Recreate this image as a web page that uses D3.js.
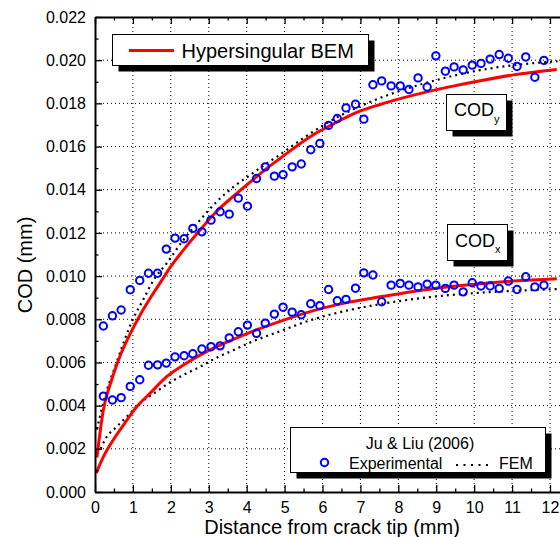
<!DOCTYPE html>
<html><head><meta charset="utf-8">
<script src="https://cdn.jsdelivr.net/npm/d3@7"></script>
<style>
html,body{margin:0;padding:0;background:#fff;}
svg{display:block;font-family:"Liberation Sans",Arial,sans-serif;}
</style></head>
<body>
<script>
// ---- data ----
const xTicks = [0,1,2,3,4,5,6,7,8,9,10,11,12];
const yTicks = [0,0.002,0.004,0.006,0.008,0.010,0.012,0.014,0.016,0.018,0.020,0.022];

const expX = [0.22,0.46,0.69,0.93,1.18,1.41,1.65,1.88,2.11,2.35,2.58,2.82,3.06,3.30,3.54,3.78,4.02,4.26,4.49,4.73,4.96,5.20,5.44,5.69,5.93,6.16,6.39,6.62,6.87,7.09,7.33,7.56,7.81,8.05,8.28,8.52,8.76,8.99,9.24,9.47,9.71,9.95,10.18,10.42,10.66,10.90,11.13,11.36,11.60,11.84];
const expCODy = [0.00769,0.00816,0.00843,0.00937,0.00980,0.01013,0.01013,0.01125,0.01176,0.01173,0.01221,0.01205,0.01259,0.01298,0.01287,0.01361,0.01324,0.01452,0.01506,0.01463,0.01470,0.01506,0.01519,0.01585,0.01614,0.01698,0.01730,0.01779,0.01796,0.01727,0.01886,0.01904,0.01881,0.01881,0.01864,0.01918,0.01876,0.02020,0.01949,0.01969,0.01955,0.01977,0.01985,0.02005,0.02026,0.02009,0.01971,0.02015,0.01921,0.01999];
const expCODx = [0.00444,0.00426,0.00437,0.00489,0.00520,0.00587,0.00589,0.00597,0.00626,0.00631,0.00640,0.00662,0.00673,0.00677,0.00714,0.00742,0.00773,0.00735,0.00782,0.00824,0.00856,0.00833,0.00821,0.00872,0.00863,0.00938,0.00886,0.00892,0.00944,0.01015,0.01005,0.00881,0.00958,0.00966,0.00958,0.00950,0.00963,0.00958,0.00943,0.00958,0.00927,0.00969,0.00954,0.00954,0.00943,0.00977,0.00938,0.00997,0.00950,0.00958];

const bemYx = [0.05,0.22,0.44,0.66,0.92,1.19,1.5,1.76,2.0,2.33,2.77,3.21,3.65,4.09,4.53,4.88,5.76,6.2,7.0,7.52,8.4,9.28,10.16,11.03,12.18];
const bemYv = [0.0016,0.0038,0.0052,0.0063,0.0073,0.0082,0.0091,0.0098,0.01045,0.0112,0.01213,0.0130,0.0137,0.01435,0.01499,0.01545,0.01655,0.01697,0.01765,0.01795,0.01838,0.01874,0.01905,0.01932,0.01957];

const femYx = [0.05,0.13,0.31,0.53,0.75,1.0,1.27,1.54,1.89,2.33,2.77,3.21,3.65,4.09,4.53,4.79,5.59,6.38,7.17,7.52,8.84,10.16,11.48,12.2];
const femYv = [0.0029,0.0035,0.0047,0.0058,0.0069,0.0080,0.0089,0.0098,0.01059,0.01167,0.01259,0.01345,0.01413,0.01468,0.01522,0.01552,0.0165,0.01735,0.0180,0.01825,0.0190,0.01954,0.01985,0.01995];

const bemXx = [0.03,0.22,0.48,0.75,1.1,1.45,1.89,2.33,2.77,3.21,3.65,4.09,4.88,5.76,6.64,7.52,8.4,9.28,10.16,11.04,12.18];
const bemXv = [0.00087,0.00163,0.00241,0.0031,0.00395,0.00457,0.00534,0.00588,0.00634,0.00673,0.00707,0.00739,0.0079,0.0084,0.00877,0.00904,0.00929,0.00949,0.00965,0.00977,0.00988];

const femXx = [0.15,0.31,0.53,0.84,1.19,1.63,2.0,2.33,2.77,3.21,3.65,4.09,4.88,5.76,6.64,7.52,8.84,10.16,11.48,12.2];
const femXv = [0.0020,0.00256,0.00295,0.00349,0.00411,0.00466,0.0051,0.00542,0.0058,0.00622,0.00657,0.00692,0.00745,0.0080,0.0084,0.0087,0.00903,0.00923,0.00935,0.0094];

// ---- layout ----
const W = 560, H = 537;
const L = 95, T = 17, B = 492;
const pxPerUnit = (550 - 95) / 12;
const x = d3.scaleLinear().domain([0, 12.5]).range([L, L + 12.5 * pxPerUnit]);
const y = d3.scaleLinear().domain([0, 0.022]).range([B, T]);

const svg = d3.select("body").append("svg").attr("width", W).attr("height", H);
svg.append("rect").attr("width", W).attr("height", H).attr("fill", "#fff");

// grid
const grid = svg.append("g").attr("stroke", "#000").attr("stroke-width", 1).attr("stroke-dasharray", "1,3");
grid.selectAll(".gx").data(xTicks.filter(d => d > 0)).enter().append("line")
  .attr("x1", d => x(d)).attr("x2", d => x(d)).attr("y1", B).attr("y2", T);
grid.selectAll(".gy").data(yTicks.filter(d => d > 0 && d < 0.022)).enter().append("line")
  .attr("y1", d => y(d)).attr("y2", d => y(d)).attr("x1", L).attr("x2", W);

// curves
const mk = (xs, vs) => xs.map((d, i) => [d, vs[i]]);
const line = d3.line().x(d => x(d[0])).y(d => y(d[1])).curve(d3.curveMonotoneX);
const curves = svg.append("g").attr("fill", "none");
curves.append("path").datum(mk(femYx, femYv)).attr("d", line)
  .attr("stroke", "#000").attr("stroke-width", 2.2).attr("stroke-dasharray", "2,4");
curves.append("path").datum(mk(femXx, femXv)).attr("d", line)
  .attr("stroke", "#000").attr("stroke-width", 2.2).attr("stroke-dasharray", "2,4");
curves.append("path").datum(mk(bemYx, bemYv)).attr("d", line)
  .attr("stroke", "#ff0000").attr("stroke-width", 3);
curves.append("path").datum(mk(bemXx, bemXv)).attr("d", line)
  .attr("stroke", "#ff0000").attr("stroke-width", 3);

// experimental points
const pts = svg.append("g").attr("fill", "none").attr("stroke", "#0000ff").attr("stroke-width", 2);
pts.selectAll(".py").data(mk(expX, expCODy)).enter().append("circle")
  .attr("cx", d => x(d[0])).attr("cy", d => y(d[1])).attr("r", 3.7);
pts.selectAll(".px").data(mk(expX, expCODx)).enter().append("circle")
  .attr("cx", d => x(d[0])).attr("cy", d => y(d[1])).attr("r", 3.7);

// axes
const fmt = d3.format(".3f");
const minorX = d3.range(0.5, 12.6, 1);
const minorY = d3.range(0.001, 0.022, 0.002);
function styleAxis(g) {
  g.select(".domain").attr("stroke", "#000").attr("stroke-width", 2);
  g.selectAll(".tick line").attr("stroke", "#000").attr("stroke-width", 1.3);
  g.selectAll("text").attr("font-size", 16).attr("fill", "#000")
    .attr("font-family", '"Liberation Sans",Arial,sans-serif');
}
svg.append("g").attr("transform", `translate(0,${B})`)
  .call(d3.axisBottom(x).tickValues(xTicks).tickSize(-7).tickPadding(10).tickSizeOuter(0).tickFormat(d3.format("d")))
  .call(styleAxis);
svg.append("g").attr("transform", `translate(0,${B})`)
  .call(d3.axisBottom(x).tickValues(minorX).tickSize(-3.5).tickFormat("").tickSizeOuter(0))
  .call(g => { g.select(".domain").remove(); g.selectAll(".tick line").attr("stroke", "#000").attr("stroke-width", 1.3); });
svg.append("g").attr("transform", `translate(0,${T})`)
  .call(d3.axisTop(x).tickValues(xTicks).tickSize(-7).tickFormat("").tickSizeOuter(0))
  .call(styleAxis);
svg.append("g").attr("transform", `translate(0,${T})`)
  .call(d3.axisTop(x).tickValues(minorX).tickSize(-3.5).tickFormat("").tickSizeOuter(0))
  .call(g => { g.select(".domain").remove(); g.selectAll(".tick line").attr("stroke", "#000").attr("stroke-width", 1.3); });
svg.append("g").attr("transform", `translate(${L},0)`)
  .call(d3.axisLeft(y).tickValues(yTicks).tickSize(-7).tickPadding(9).tickSizeOuter(0).tickFormat(fmt))
  .call(styleAxis);
svg.append("g").attr("transform", `translate(${L},0)`)
  .call(d3.axisLeft(y).tickValues(minorY).tickSize(-3.5).tickFormat("").tickSizeOuter(0))
  .call(g => { g.select(".domain").remove(); g.selectAll(".tick line").attr("stroke", "#000").attr("stroke-width", 1.3); });

// axis titles
svg.append("text").attr("x", 332).attr("y", 534).attr("text-anchor", "middle")
  .attr("font-size", 20).text("Distance from crack tip (mm)");
svg.append("text").attr("transform", "translate(32,265) rotate(-90)").attr("text-anchor", "middle")
  .attr("font-size", 20).text("COD (mm)");

// boxes with shadow
function shadowBox(x0, y0, w, h) {
  svg.append("rect").attr("x", x0 + 6).attr("y", y0 + 6).attr("width", w).attr("height", h).attr("fill", "#000");
  svg.append("rect").attr("x", x0).attr("y", y0).attr("width", w).attr("height", h)
    .attr("fill", "#fff").attr("stroke", "#000").attr("stroke-width", 1);
}
// legend 1
shadowBox(112.5, 34.5, 256, 31);
svg.append("line").attr("x1", 129).attr("x2", 174).attr("y1", 50.5).attr("y2", 50.5)
  .attr("stroke", "#ff0000").attr("stroke-width", 3);
svg.append("text").attr("x", 181.5).attr("y", 58).attr("font-size", 20).text("Hypersingular BEM");

// legend 2
shadowBox(290.5, 427.5, 255, 45);
svg.append("text").attr("x", 420).attr("y", 448.5).attr("text-anchor", "middle").attr("font-size", 16).text("Ju & Liu (2006)");
svg.append("circle").attr("cx", 324.5).attr("cy", 462.5).attr("r", 3.7)
  .attr("fill", "none").attr("stroke", "#0000ff").attr("stroke-width", 2);
svg.append("text").attr("x", 349).attr("y", 468.5).attr("font-size", 16).text("Experimental");
svg.append("line").attr("x1", 456).attr("x2", 492).attr("y1", 465).attr("y2", 465)
  .attr("stroke", "#000").attr("stroke-width", 2).attr("stroke-dasharray", "2,5.5");
svg.append("text").attr("x", 499).attr("y", 468.5).attr("font-size", 16).text("FEM");

// COD labels
shadowBox(446.5, 94.5, 60, 36);
const t1 = svg.append("text").attr("x", 454).attr("y", 116).attr("font-size", 18);
t1.append("tspan").text("COD");
t1.append("tspan").attr("font-size", 11).attr("dy", 7).text("y");

shadowBox(447.5, 224.5, 60, 36);
const t2 = svg.append("text").attr("x", 455).attr("y", 247).attr("font-size", 18);
t2.append("tspan").text("COD");
t2.append("tspan").attr("font-size", 11).attr("dy", 6).text("x");
</script>
</body></html>
